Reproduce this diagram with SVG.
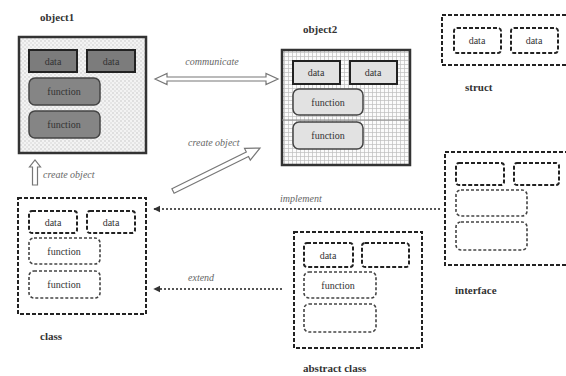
<svg xmlns="http://www.w3.org/2000/svg" width="566" height="376" viewBox="0 0 566 376">
<defs>
<pattern id="dots" width="4" height="4" patternUnits="userSpaceOnUse">
<rect width="4" height="4" fill="#f3f3f3"/>
<circle cx="1" cy="1" r="0.7" fill="#bcbcbc"/>
<circle cx="3" cy="3" r="0.7" fill="#cccccc"/>
</pattern>
<pattern id="grid" width="4" height="4" patternUnits="userSpaceOnUse">
<rect width="4" height="4" fill="#fbfbfb"/>
<path d="M0 0.5H4M0.5 0V4" stroke="#bdbdbd" stroke-width="0.7" fill="none"/>
</pattern>
<marker id="head" viewBox="0 0 10 10" refX="9" refY="5" markerWidth="4" markerHeight="4" orient="auto-start-reverse" markerUnits="strokeWidth">
<path d="M0 0L10 5L0 10Z" fill="#333"/>
</marker>
<style>
.lbl{font-family:"Liberation Serif","DejaVu Serif","Times New Roman",serif;font-weight:bold;font-size:11px;fill:#333}
.cap{font-family:"Liberation Serif","DejaVu Serif","Times New Roman",serif;font-style:italic;font-size:10px;fill:#666}
.in{font-family:"Liberation Serif","DejaVu Serif","Times New Roman",serif;font-size:10px;fill:#333;text-anchor:middle}
.dash{fill:none;stroke:#222;stroke-width:2;stroke-dasharray:4 2}
.dashl{fill:none;stroke:#444;stroke-width:1.6;stroke-dasharray:3 2}
.d1{fill:#7c7c7c;stroke:#222;stroke-width:2}
.f1{fill:#858585;stroke:#444;stroke-width:1.5}
.d2{fill:#e2e2e2;stroke:#222;stroke-width:2}
.f2{fill:#e2e2e2;stroke:#444;stroke-width:1.5}
.hollow{fill:#fff;stroke:#777;stroke-width:1.2}
.dot{fill:none;stroke:#555;stroke-width:1.8;stroke-dasharray:2 2}
</style>
</defs>

<g id="object1">
<rect x="19" y="37" width="127" height="116" fill="url(#dots)" stroke="#333" stroke-width="2.5"/>
<rect class="d1" x="29" y="50" width="48" height="22"/>
<text class="in" x="53" y="65">data</text>
<rect class="d1" x="87" y="50" width="48" height="22"/>
<text class="in" x="111" y="65">data</text>
<rect class="f1" x="29" y="78" width="71" height="27" rx="6"/>
<text class="in" x="64" y="95">function</text>
<rect class="f1" x="29" y="111" width="71" height="27" rx="6"/>
<text class="in" x="64" y="128">function</text>
<text class="lbl" x="40" y="21">object1</text>
</g>

<g id="object2">
<rect x="282" y="50" width="128" height="115" fill="url(#grid)" stroke="#333" stroke-width="2.5"/>
<line x1="282" y1="120" x2="410" y2="120" stroke="#888" stroke-width="1"/>
<rect class="d2" x="293" y="61" width="47" height="23"/>
<text class="in" x="316" y="76">data</text>
<rect class="d2" x="350" y="61" width="47" height="23"/>
<text class="in" x="373" y="76">data</text>
<rect class="f2" x="293" y="89" width="70" height="26" rx="6"/>
<text class="in" x="328" y="106">function</text>
<rect class="f2" x="293" y="122" width="70" height="27" rx="6"/>
<text class="in" x="328" y="139">function</text>
<text class="lbl" x="303" y="33">object2</text>
</g>

<g id="struct">
<rect class="dash" x="442" y="15" width="130" height="50"/>
<rect class="dash" x="454" y="28" width="47" height="25" rx="3"/>
<text class="in" x="477" y="44">data</text>
<rect class="dash" x="511" y="28" width="47" height="25" rx="3"/>
<text class="in" x="534" y="44">data</text>
<text class="lbl" x="465" y="91">struct</text>
</g>

<g id="interface">
<rect class="dash" x="445" y="152" width="127" height="113"/>
<rect class="dash" x="456" y="163" width="48" height="22" rx="3"/>
<rect class="dash" x="514" y="163" width="45" height="22" rx="3"/>
<rect class="dashl" x="456" y="190" width="71" height="26" rx="5"/>
<rect class="dashl" x="456" y="222" width="71" height="28" rx="5"/>
<text class="lbl" x="455" y="294">interface</text>
</g>

<g id="abstract-class">
<rect class="dash" x="294" y="232" width="128" height="116"/>
<rect class="dash" x="304" y="243" width="49" height="24" rx="3"/>
<text class="in" x="328" y="259">data</text>
<rect class="dash" x="362" y="243" width="47" height="24" rx="3"/>
<rect class="dashl" x="304" y="272" width="72" height="26" rx="5"/>
<text class="in" x="338" y="289">function</text>
<rect class="dashl" x="304" y="304" width="72" height="28" rx="5"/>
<text class="lbl" x="303" y="372">abstract class</text>
</g>

<g id="class">
<rect class="dash" x="18" y="198" width="128" height="116"/>
<rect class="dash" x="29" y="211" width="48" height="22" rx="3"/>
<text class="in" x="53" y="226">data</text>
<rect class="dash" x="87" y="211" width="48" height="22" rx="3"/>
<text class="in" x="111" y="226">data</text>
<rect class="dashl" x="29" y="238" width="71" height="26" rx="5"/>
<text class="in" x="64" y="255">function</text>
<rect class="dashl" x="29" y="271" width="71" height="27" rx="5"/>
<text class="in" x="64" y="288">function</text>
<text class="lbl" x="40" y="340">class</text>
</g>

<g id="connectors">
<polygon class="hollow" points="155,79 167,73.5 167,77 266,77 266,73.5 278,79 266,84.5 266,81 167,81 167,84.5"/>
<text class="cap" x="212" y="65" text-anchor="middle">communicate</text>
<polygon class="hollow" transform="translate(173,191) rotate(-26.3)" points="0,-2.5 83,-2.5 83,-6.5 97,0 83,6.5 83,2.5 0,2.5"/>
<text class="cap" x="188" y="146">create object</text>
<polygon class="hollow" points="32.5,185 32.5,167 29.5,167 35,160 40.5,167 37.5,167 37.5,185"/>
<text class="cap" x="43" y="178">create object</text>
<line class="dot" x1="440" y1="209" x2="154" y2="209" marker-end="url(#head)"/>
<text class="cap" x="280" y="202">implement</text>
<line class="dot" x1="282" y1="289" x2="154" y2="289" marker-end="url(#head)"/>
<text class="cap" x="188" y="281">extend</text>
</g>
</svg>
